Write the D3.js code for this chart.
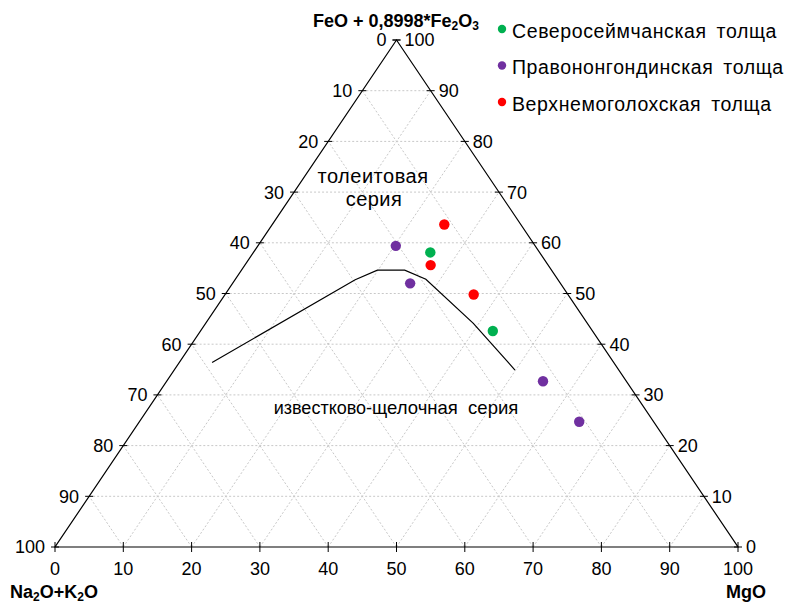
<!DOCTYPE html>
<html>
<head>
<meta charset="utf-8">
<script src="https://cdn.jsdelivr.net/npm/d3@7"></script>
<style>
  body { margin: 0; background: #fff; }
  svg { display: block; font-family: Arial, "Liberation Sans", sans-serif; }
</style>
</head>
<body>
<svg id="chart" width="792" height="603"></svg>
<script>
"use strict";
// Ternary data as [Na2O+K2O, FeO*, MgO]
const seriesNames = ["Северосеймчанская толща", "Правононгондинская толща", "Верхнемоголохская толща"];
const seriesColors = ["#00b050", "#7030a0", "#ff0000"];
const severoseymchan = [[16.0, 58.1, 25.9], [14.6, 42.6, 42.8]];
const pravonongondin = [[20.4, 59.4, 20.2], [22.0, 52.0, 26.0], [12.2, 32.7, 55.1], [10.9, 24.7, 64.4]];
const verkhnemogolokh = [[11.2, 63.6, 25.2], [17.2, 55.6, 27.2], [13.8, 49.8, 36.4]];
// Irvine & Baragar tholeiitic / calc-alkaline boundary
const boundary = [[58.8, 36.4, 4.8], [29.7, 52.7, 17.6], [25.5, 54.6, 19.9], [21.5, 54.6, 23.9], [19.3, 52.8, 27.9], [16.7, 44.1, 39.2], [15.2, 34.9, 49.9]];
const ticks = d3.range(0, 101, 10);

(function () {
  const svg = d3.select("#chart");
  const x = d3.scaleLinear().domain([0, 100]).range([55, 738]);
  const y = d3.scaleLinear().domain([0, 100]).range([547, 40]);
  // a: Na2O+K2O, f: FeO*, m: MgO
  const pt = ([a, f, m]) => {
    const s = a + f + m;
    const ff = (f / s) * 100, mm = (m / s) * 100;
    return [x(mm + ff / 2), y(ff)];
  };

  // grid
  const grid = svg.append("g")
    .attr("stroke", "#c8c8c8")
    .attr("stroke-width", 1)
    .attr("stroke-dasharray", "2,2")
    .attr("fill", "none");
  const seg = (p, q) => {
    const [x1, y1] = pt(p), [x2, y2] = pt(q);
    grid.append("line").attr("x1", x1).attr("y1", y1).attr("x2", x2).attr("y2", y2);
  };
  ticks.slice(1, -1).forEach((t) => {
    seg([100 - t, t, 0], [0, t, 100 - t]); // constant FeO
    seg([100 - t, 0, t], [0, 100 - t, t]); // constant MgO
    seg([t, 0, 100 - t], [t, 100 - t, 0]); // constant Na2O+K2O
  });

  // triangle
  const corners = [[100, 0, 0], [0, 0, 100], [0, 100, 0]].map(pt);
  svg.append("path")
    .attr("d", d3.line()(corners) + "Z")
    .attr("fill", "none")
    .attr("stroke", "#000")
    .attr("stroke-width", 1.2);

  // ticks and labels
  const axes = svg.append("g").attr("font-size", 18).attr("fill", "#000");
  ticks.forEach((t) => {
    // bottom: MgO
    const [bx, by] = pt([100 - t, 0, t]);
    axes.append("line").attr("x1", bx).attr("x2", bx).attr("y1", by - 5).attr("y2", by + 5).attr("stroke", "#000");
    axes.append("text").attr("x", bx).attr("y", by + 28).attr("text-anchor", "middle").text(t);
    // left: 100 - FeO
    const [lx, ly] = pt([100 - t, t, 0]);
    axes.append("line").attr("x1", lx - 4).attr("x2", lx + 4).attr("y1", ly).attr("y2", ly).attr("stroke", "#000");
    axes.append("text").attr("x", lx - 10).attr("y", ly).attr("dy", "0.36em").attr("text-anchor", "end").text(100 - t);
    // right: FeO
    const [rx, ry] = pt([0, t, 100 - t]);
    axes.append("line").attr("x1", rx - 4).attr("x2", rx + 4).attr("y1", ry).attr("y2", ry).attr("stroke", "#000");
    axes.append("text").attr("x", rx + 8).attr("y", ry).attr("dy", "0.36em").attr("text-anchor", "start").text(t);
  });

  // axis titles
  const top = svg.append("text")
    .attr("x", 396).attr("y", 27)
    .attr("text-anchor", "middle")
    .attr("font-size", 18).attr("font-weight", "bold");
  top.append("tspan").text("FeO + 0,8998*Fe");
  top.append("tspan").attr("font-size", 12).attr("dy", 3).text("2");
  top.append("tspan").attr("dy", -3).text("O");
  top.append("tspan").attr("font-size", 12).attr("dy", 3).text("3");

  const left = svg.append("text")
    .attr("x", 10).attr("y", 598)
    .attr("font-size", 18).attr("font-weight", "bold");
  left.append("tspan").text("Na");
  left.append("tspan").attr("font-size", 12).attr("dy", 3).text("2");
  left.append("tspan").attr("dy", -3).text("O+K");
  left.append("tspan").attr("font-size", 12).attr("dy", 3).text("2");
  left.append("tspan").attr("dy", -3).text("O");

  svg.append("text")
    .attr("x", 746).attr("y", 598)
    .attr("text-anchor", "middle")
    .attr("font-size", 18).attr("font-weight", "bold")
    .text("MgO");

  // boundary line
  svg.append("path")
    .attr("d", d3.line()(boundary.map(pt)))
    .attr("fill", "none")
    .attr("stroke", "#000")
    .attr("stroke-width", 1.2);

  // field labels
  const field = svg.append("g").attr("text-anchor", "middle").attr("font-size", 20).attr("letter-spacing", 0.5);
  field.append("text").attr("x", 373).attr("y", 183).text("толеитовая");
  field.append("text").attr("x", 374).attr("y", 206).text("серия");
  const ca = svg.append("text")
    .attr("x", 396).attr("y", 414)
    .attr("text-anchor", "middle")
    .attr("font-size", 18)
    .attr("xml:space", "preserve");
  ca.append("tspan").text("известково-");
  ca.append("tspan").attr("font-size", 18.5).text("щелочная  серия");

  // points
  const allSeries = [severoseymchan, pravonongondin, verkhnemogolokh];
  allSeries.forEach((data, i) => {
    svg.append("g")
      .selectAll("circle")
      .data(data)
      .join("circle")
      .attr("cx", (d) => pt(d)[0])
      .attr("cy", (d) => pt(d)[1])
      .attr("r", 5.2)
      .attr("fill", seriesColors[i]);
  });

  // legend
  const legend = svg.append("g")
    .attr("font-size", 19.5)
    .attr("letter-spacing", 0.6)
    .attr("word-spacing", 4);
  seriesNames.forEach((name, i) => {
    const ly = 29 + i * 36.5;
    legend.append("circle").attr("cx", 502).attr("cy", ly).attr("r", 4.2).attr("fill", seriesColors[i]);
    legend.append("text").attr("x", 512).attr("y", ly + 8.5).text(name);
  });
})();
</script>
</body>
</html>
